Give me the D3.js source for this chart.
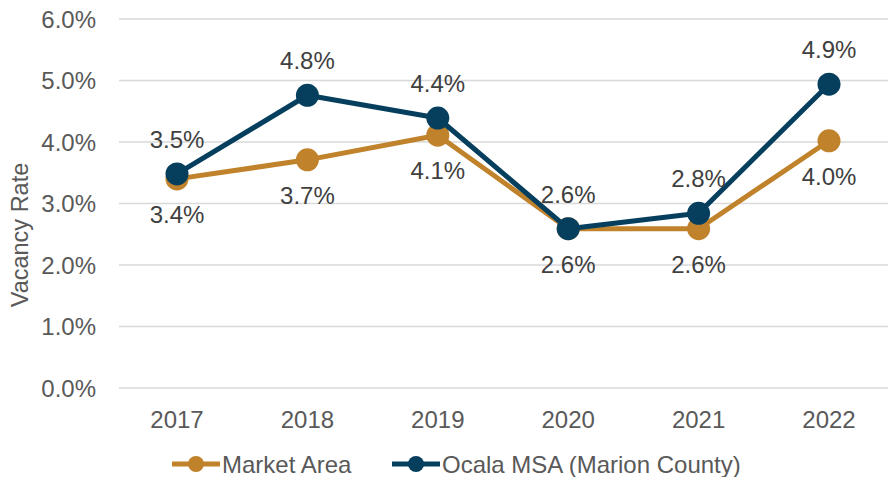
<!DOCTYPE html>
<html>
<head>
<meta charset="utf-8">
<script src="https://cdn.jsdelivr.net/npm/d3@7"></script>
<style>
  body { margin: 0; background: #fff; }
  text { font-family: "Liberation Sans", Arial, sans-serif; }
</style>
</head>
<body>
<svg id="chart" width="888" height="477"></svg>
<script>
// data
const years = ["2017", "2018", "2019", "2020", "2021", "2022"];
const marketArea = [3.40, 3.71, 4.11, 2.59, 2.59, 4.02];
const ocalaMsa = [3.48, 4.76, 4.39, 2.59, 2.84, 4.94];
const yTicks = [0, 1, 2, 3, 4, 5, 6];
const seriesNames = ["Market Area", "Ocala MSA (Marion County)"];

const svg = d3.select("#chart");
const gold = "#C0822A", navy = "#063F5E";
const fs = 24;

const x = d3.scalePoint().domain(years).range([177, 829]);
const y = d3.scaleLinear().domain([0, 6]).range([388, 19]);

// gridlines
svg.selectAll(".grid")
  .data(yTicks)
  .enter().append("line")
  .attr("x1", 119).attr("x2", 888)
  .attr("y1", d => y(d)).attr("y2", d => y(d))
  .attr("stroke", "#d9d9d9").attr("stroke-width", 1.3);

// y tick labels
svg.selectAll(".ylab")
  .data(yTicks)
  .enter().append("text")
  .attr("x", 96).attr("y", d => y(d) + 8.5)
  .attr("text-anchor", "end")
  .attr("font-size", fs).attr("fill", "#595959")
  .text(d => d.toFixed(1) + "%");

// x tick labels
svg.selectAll(".xlab")
  .data(years)
  .enter().append("text")
  .attr("x", d => x(d)).attr("y", 428)
  .attr("text-anchor", "middle")
  .attr("font-size", fs).attr("fill", "#595959")
  .text(d => d);

// axis title
svg.append("text")
  .attr("transform", "translate(28,235) rotate(-90)")
  .attr("text-anchor", "middle")
  .attr("font-size", 23.5).attr("fill", "#595959")
  .text("Vacancy Rate");

const line = d3.line().x((d, i) => x(years[i])).y(d => y(d));

function drawSeries(vals, color) {
  svg.append("path")
    .datum(vals)
    .attr("d", line)
    .attr("fill", "none")
    .attr("stroke", color).attr("stroke-width", 5)
    .attr("stroke-linejoin", "round");
  svg.selectAll(null)
    .data(vals)
    .enter().append("circle")
    .attr("cx", (d, i) => x(years[i])).attr("cy", d => y(d))
    .attr("r", 11.5).attr("fill", color);
}
drawSeries(marketArea, gold);
drawSeries(ocalaMsa, navy);

// data labels: market below, ocala above
svg.selectAll(".mlab")
  .data(marketArea)
  .enter().append("text")
  .attr("x", (d, i) => x(years[i])).attr("y", d => y(d) + 44)
  .attr("text-anchor", "middle")
  .attr("font-size", fs).attr("fill", "#404040")
  .text(d => d.toFixed(1) + "%");

svg.selectAll(".olab")
  .data(ocalaMsa)
  .enter().append("text")
  .attr("x", (d, i) => x(years[i])).attr("y", d => y(d) - 26)
  .attr("text-anchor", "middle")
  .attr("font-size", fs).attr("fill", "#404040")
  .text(d => d.toFixed(1) + "%");

// legend
const legend = [
  { name: seriesNames[0], color: gold, x: 172 },
  { name: seriesNames[1], color: navy, x: 392 }
];
const lg = svg.selectAll(".legend")
  .data(legend)
  .enter().append("g")
  .attr("transform", d => `translate(${d.x},464)`);
lg.append("line")
  .attr("x1", 0).attr("x2", 48)
  .attr("stroke", d => d.color).attr("stroke-width", 5);
lg.append("circle")
  .attr("cx", 24).attr("r", 8)
  .attr("fill", d => d.color);
lg.append("text")
  .attr("x", 50).attr("y", 8.5)
  .attr("font-size", fs).attr("fill", "#595959")
  .text(d => d.name);
</script>
</body>
</html>
